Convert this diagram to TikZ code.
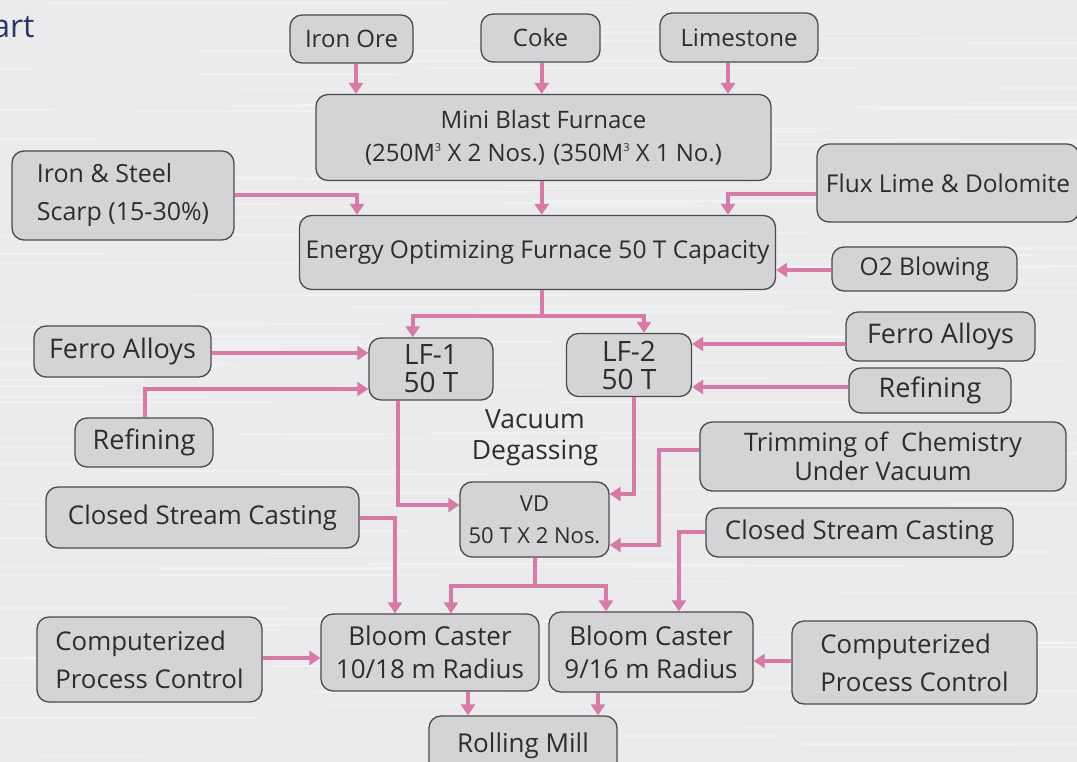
\documentclass[tikz,border=0pt]{standalone}
\usepackage{fontspec}
\setmainfont{Open Sans}
\usetikzlibrary{arrows.meta,calc}
\definecolor{bg}{RGB}{235,235,237}
\definecolor{boxfill}{RGB}{212,212,214}
\definecolor{boxline}{RGB}{75,75,75}
\definecolor{pinkarr}{RGB}{214,122,168}
\definecolor{txt}{RGB}{45,45,45}
\definecolor{navy}{RGB}{40,55,100}
\newcommand{\cubed}{\raisebox{10pt}{\fontsize{11}{11}\selectfont 3}}
\begin{document}
\begin{tikzpicture}[x=1pt,y=-1pt,
  box/.style={draw=boxline,line width=1.3pt,fill=boxfill,rounded corners=12pt,align=center,text=txt,inner sep=0pt},
  f/.style 2 args={font=\fontsize{#1}{#2}\selectfont},
  arr/.style={draw=pinkarr,line width=4pt,-{Triangle[width=14pt,length=11pt]}},
  seg/.style={draw=pinkarr,line width=4pt}]
\clip (0,0) rectangle (1077,762);
\useasboundingbox (0,0) rectangle (1077,762);
\fill[bg] (0,0) rectangle (1077,762);
\pgfmathsetseed{7}
\foreach \i in {1,...,160}{
  \pgfmathsetmacro\yy{random(0,762)}
  \pgfmathsetmacro\xx{random(-200,1000)}
  \pgfmathsetmacro\ll{random(80,450)}
  \pgfmathsetmacro\ww{random(5,25)/10}
  \draw[white,opacity=0.35,line width=\ww pt] (\xx,\yy) -- ++(\ll,0);
}
\node[anchor=base east,text=navy,f={32}{38}] (title) at (38,38) {art};

% boxes
\node[box,minimum width=123pt,minimum height=48pt,f={24}{29}] (ironore) at (351.5,39) {Iron Ore};
\node[box,minimum width=119pt,minimum height=48pt,f={24}{29}] (coke) at (540.5,38) {Coke};
\node[box,minimum width=158pt,minimum height=49pt,f={24}{29}] (lime) at (739,37.5) {Limestone};
\node[box,minimum width=455pt,minimum height=86pt,f={24}{33}] (mbf) at (543.5,137.5) {Mini Blast Furnace\\(250M\cubed{} X 2 Nos.) (350M\cubed{} X 1 No.)};
\node[box,align=left,minimum width=222pt,minimum height=89pt,f={25}{38}] (scrap) at (123,195.5) {Iron \& Steel\\Scarp (15-30\%)};
\node[box,minimum width=262pt,minimum height=78pt,f={24.5}{32}] (flux) at (948,183) {Flux Lime \& Dolomite};
\node[box,minimum width=476pt,minimum height=74pt,f={24.5}{32}] (eof) at (537.5,252.5) {Energy Optimizing Furnace 50 T Capacity};
\node[box,minimum width=185pt,minimum height=44pt,f={24.5}{31}] (o2) at (924.5,269) {O2 Blowing};
\node[box,minimum width=177pt,minimum height=51pt,f={27}{32}] (fa1) at (122.5,351.5) {Ferro Alloys};
\node[box,minimum width=138pt,minimum height=49pt,f={27}{32}] (ref1) at (144,442.5) {Refining};
\node[box,minimum width=124pt,minimum height=62pt,f={28}{28}] (lf1) at (431,369) {LF-1\\50 T};
\node[box,minimum width=125pt,minimum height=63pt,f={28}{28}] (lf2) at (629,365) {LF-2\\50 T};
\node[box,minimum width=189pt,minimum height=49pt,f={27}{32}] (fa2) at (940.5,336.5) {Ferro Alloys};
\node[box,minimum width=162pt,minimum height=45pt,f={27}{32}] (ref2) at (930,390.5) {Refining};
\node[align=center,text=txt,f={26.5}{31}] (vdtext) at (535,438) {Vacuum\\Degassing};
\node[box,minimum width=366pt,minimum height=69pt,f={25.5}{29}] (trim) at (883,456.5) {Trimming of~ Chemistry\\Under Vacuum};
\node[box,minimum width=149pt,minimum height=75pt,f={22}{32}] (vd) at (534.5,519.5) {VD\\50 T X 2 Nos.};
\node[box,minimum width=313pt,minimum height=61pt,f={25.8}{32}] (csc1) at (202.5,517.5) {Closed Stream Casting};
\node[box,minimum width=307pt,minimum height=49pt,f={25.8}{32}] (csc2) at (859.5,532.5) {Closed Stream Casting};
\node[box,minimum width=218pt,minimum height=77pt,f={26}{33}] (bc1) at (430,652.5) {Bloom Caster\\10/18 m Radius};
\node[box,minimum width=204pt,minimum height=80pt,f={26}{33}] (bc2) at (651,652) {Bloom Caster\\9/16 m Radius};
\node[box,align=left,minimum width=225pt,minimum height=85pt,f={25.8}{38}] (cpc1) at (149.5,659.5) {Computerized\\Process Control};
\node[box,align=left,minimum width=245pt,minimum height=83pt,f={25.8}{38}] (cpc2) at (914.5,662.5) {Computerized\\Process Control};
\node[box,minimum width=188pt,minimum height=59pt,f={26}{31}] (rm) at (523,745.5) {Rolling Mill};

% connectors
\draw[arr] (ironore.south -| 356,0) -- (356,0 |- mbf.north);
\draw[arr] (coke.south -| 541.7,0) -- (541.7,0 |- mbf.north);
\draw[arr] (lime.south -| 728,0) -- (728,0 |- mbf.north);
\draw[arr] (mbf.south -| 541.7,0) -- (541.7,0 |- eof.north);
\draw[arr] (scrap.east |- 0,195) -| (357,0 |- eof.north);
\draw[arr] (flux.west |- 0,194) -| (728,0 |- eof.north);
\draw[arr] (o2.west |- 0,270) -- (eof.east |- 0,270);
\coordinate (split1) at (541.7,316);
\draw[seg] (eof.south -| split1) -- (split1);
\draw[arr] (split1) -| (412.7,0 |- lf1.north);
\draw[arr] (split1) -| (644,0 |- lf2.north);
\draw[arr] (fa1.east |- 0,353) -- (lf1.west |- 0,353);
\draw[arr] (ref1.north -| 145,0) |- (lf1.west |- 0,389);
\draw[arr] (fa2.west |- 0,344) -- (lf2.east |- 0,344);
\draw[arr] (ref2.west |- 0,387) -- (lf2.east |- 0,387);
\draw[arr] (lf1.south -| 397.7,0) |- (vd.west |- 0,505);
\draw[arr] (lf2.south -| 634,0) |- (vd.east |- 0,494);
\draw[arr] (trim.west |- 0,450) -| (659,545) -- (vd.east |- 0,545);
\draw[arr] (csc1.east |- 0,518) -| (395,0 |- bc1.north);
\draw[arr] (csc2.west |- 0,532) -| (679,0 |- bc2.north);
\coordinate (split2) at (535,586);
\draw[seg] (vd.south -| split2) -- (split2);
\draw[arr] (split2) -| (451,0 |- bc1.north);
\draw[arr] (split2) -| (606,0 |- bc2.north);
\draw[arr] (cpc1.east |- 0,658) -- (bc1.west |- 0,658);
\draw[arr] (cpc2.west |- 0,661) -- (bc2.east |- 0,661);
\draw[arr] (bc1.south -| 468,0) -- (468,0 |- rm.north);
\draw[arr] (bc2.south -| 598,0) -- (598,0 |- rm.north);
\end{tikzpicture}
\end{document}
